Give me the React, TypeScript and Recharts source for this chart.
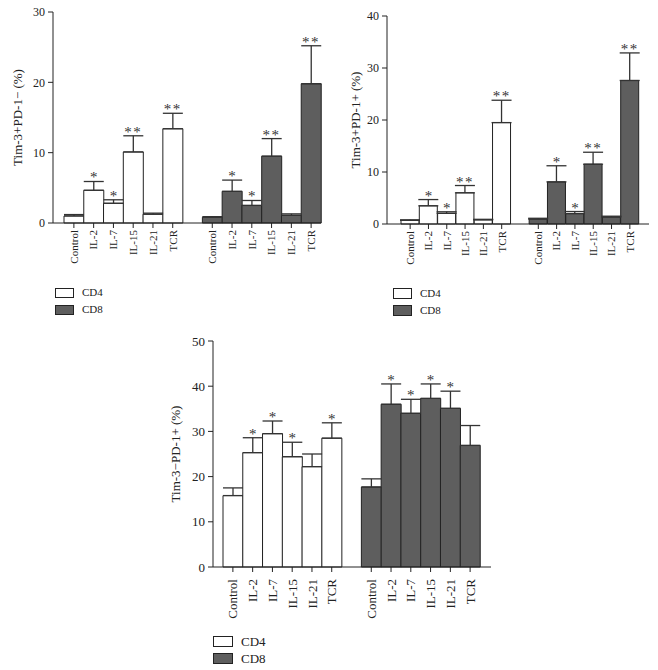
import { Bar, Cell, ComposedChart, ErrorBar, Line, XAxis, YAxis } from 'recharts';

const FONT = '"Liberation Serif", "Times New Roman", serif';
const INK = '#222';
const DARK = '#5e5e5e';

const categories = ['Control', 'IL-2', 'IL-7', 'IL-15', 'IL-21', 'TCR'];

// Tim-3+PD-1− (%)
const cd4MeanA = [1.0, 4.65, 2.8, 10.1, 1.25, 13.4];
const cd4ErrA = [0.2, 1.25, 0.5, 2.3, 0.15, 2.2];
const cd4SigA = ['', '*', '*', '**', '', '**'];
const cd8MeanA = [0.8, 4.5, 2.5, 9.5, 1.1, 19.8];
const cd8ErrA = [0.1, 1.6, 0.7, 2.5, 0.2, 5.4];
const cd8SigA = ['', '*', '*', '**', '', '**'];
const ticksA = [0, 10, 20, 30];

// Tim-3+PD-1+ (%)
const cd4MeanB = [0.7, 3.5, 2.05, 6.0, 0.8, 19.5];
const cd4ErrB = [0.1, 1.2, 0.3, 1.4, 0.1, 4.3];
const cd4SigB = ['', '*', '*', '**', '', '**'];
const cd8MeanB = [0.95, 8.1, 2.0, 11.5, 1.35, 27.6];
const cd8ErrB = [0.15, 3.1, 0.4, 2.3, 0.15, 5.3];
const cd8SigB = ['', '*', '*', '**', '', '**'];
const ticksB = [0, 10, 20, 30, 40];

// Tim-3−PD-1+ (%)
const cd4MeanC = [15.8, 25.3, 29.5, 24.4, 22.2, 28.5];
const cd4ErrC = [1.7, 3.3, 2.8, 3.2, 2.8, 3.4];
const cd4SigC = ['', '*', '*', '*', '', '*'];
const cd8MeanC = [17.7, 36.0, 34.0, 37.3, 35.1, 26.9];
const cd8ErrC = [1.8, 4.5, 3.1, 3.2, 3.8, 4.4];
const cd8SigC = ['', '*', '*', '*', '*', ''];
const ticksC = [0, 10, 20, 30, 40, 50];

interface Row {
  key: string;
  label: string;
  group: 'cd4' | 'cd8' | 'gap';
  value: number | null;
  err: [number, number];
  top: number | null;
  sig: string;
}

function buildRows(m4: number[], e4: number[], s4: string[], m8: number[], e8: number[], s8: string[]): Row[] {
  const side = (group: 'cd4' | 'cd8', m: number[], e: number[], s: string[]) =>
    categories.map((c, i) => ({
      key: `${group}-${c}`,
      label: c,
      group,
      value: m[i],
      err: [0, e[i]] as [number, number],
      top: s[i] ? m[i] + e[i] : null,
      sig: s[i],
    }));
  const gap: Row = { key: 'gap', label: '', group: 'gap', value: null, err: [0, 0], top: null, sig: '' };
  return [...side('cd4', m4, e4, s4), gap, ...side('cd8', m8, e8, s8)];
}

interface PanelProps {
  rows: Row[];
  ticks: number[];
  yLabel: string;
  labelX: number;
  width: number;
  height: number;
  margin: { top: number; right: number; bottom: number; left: number };
  pad: { left: number; right: number };
  xFont: number;
  yFont: number;
  labelGap: number;
}

function Panel({ rows, ticks, yLabel, labelX, width, height, margin, pad, xFont, yFont, labelGap }: PanelProps) {
  const XTick = (props: any) => {
    const { x, y, index } = props;
    const row = rows[index];
    if (!row || !row.label) return null;
    return (
      <g>
        <line x1={x} x2={x} y1={y} y2={y + 5} stroke={INK} strokeWidth={1} />
        <text
          x={x}
          y={y + labelGap}
          transform={`rotate(-90, ${x}, ${y + labelGap})`}
          textAnchor="end"
          dy="0.35em"
          fontSize={xFont}
          fontFamily={FONT}
          fill={INK}
        >
          {row.label}
        </text>
      </g>
    );
  };

  // significance marks sit just above each error-bar cap
  const Star = (props: any) => {
    const { cx, cy, index } = props;
    const row = rows[index];
    if (!row || !row.sig || cy == null) return <g key={`s${index}`} />;
    return (
      <text
        key={`s${index}`}
        x={cx}
        y={cy + 1}
        transform={`rotate(0.01, ${cx}, ${cy})`}
        textAnchor="middle"
        fontSize={15}
        fontFamily={FONT}
        fill="#333"
        letterSpacing={row.sig.length > 1 ? 1.5 : 0}
      >
        {row.sig}
      </text>
    );
  };

  const YTitle = (props: any) => {
    const vb = props.viewBox;
    const cy = vb.y + vb.height / 2;
    return (
      <text
        x={labelX}
        y={cy}
        transform={`rotate(-90, ${labelX}, ${cy})`}
        textAnchor="middle"
        dy="0.35em"
        fontSize={13}
        fontFamily={FONT}
        fill={INK}
      >
        {yLabel}
      </text>
    );
  };

  return (
    <ComposedChart width={width} height={height} data={rows} margin={margin} barCategoryGap={0}>
      <XAxis
        dataKey="key"
        type="category"
        padding={pad}
        tickSize={0}
        tickMargin={0}
        tick={XTick}
        interval={0}
        height={60}
        axisLine={{ stroke: INK, strokeWidth: 1 }}
      />
      <YAxis
        type="number"
        domain={[0, ticks[ticks.length - 1]]}
        ticks={ticks}
        width={40}
        tickSize={5}
        tickMargin={3}
        tick={{ fontSize: yFont, fontFamily: FONT, fill: INK }}
        tickLine={{ stroke: INK }}
        axisLine={{ stroke: INK, strokeWidth: 1 }}
        label={{ content: YTitle }}
      />
      <Bar dataKey="value" isAnimationActive={false} stroke={INK} strokeWidth={1}>
        {rows.map((r) => (
          <Cell key={r.key} fill={r.group === 'cd8' ? DARK : '#ffffff'} />
        ))}
        <ErrorBar dataKey="err" width={10} stroke="#333" strokeWidth={1.3} direction="y" />
      </Bar>
      <Line
        dataKey="top"
        stroke="none"
        isAnimationActive={false}
        dot={Star}
        activeDot={false}
        legendType="none"
        connectNulls={false}
      />
    </ComposedChart>
  );
}

function Key({ left, top, size, fontSize, gap }: { left: number; top: number; size: [number, number]; fontSize: number; gap: number }) {
  const items = [
    { name: 'CD4', fill: '#ffffff' },
    { name: 'CD8', fill: DARK },
  ];
  return (
    <div style={{ position: 'absolute', left, top, fontFamily: FONT, fontSize, color: INK }}>
      {items.map((it, i) => (
        <div key={it.name} style={{ position: 'absolute', left: 0, top: i * gap, display: 'flex', alignItems: 'center', whiteSpace: 'nowrap' }}>
          <span
            style={{
              display: 'inline-block',
              width: size[0],
              height: size[1],
              background: it.fill,
              border: `1px solid ${INK}`,
              marginRight: 8,
            }}
          />
          <span style={{ lineHeight: 1 }}>{it.name}</span>
        </div>
      ))}
    </div>
  );
}

export default function App() {
  const rowsA = buildRows(cd4MeanA, cd4ErrA, cd4SigA, cd8MeanA, cd8ErrA, cd8SigA);
  const rowsB = buildRows(cd4MeanB, cd4ErrB, cd4SigB, cd8MeanB, cd8ErrB, cd8SigB);
  const rowsC = buildRows(cd4MeanC, cd4ErrC, cd4SigC, cd8MeanC, cd8ErrC, cd8SigC);
  return (
    <div style={{ position: 'absolute', left: 0, top: 0, width: 658, height: 670, background: '#fff', overflow: 'hidden' }}>
      <div style={{ position: 'absolute', left: 0, top: 0 }}>
        <Panel
          rows={rowsA}
          ticks={ticksA}
          yLabel="Tim-3+PD-1− (%)"
          labelX={17}
          width={330}
          height={300}
          margin={{ top: 12, right: 9, bottom: 17, left: 13 }}
          pad={{ left: 11, right: 0 }}
          xFont={11}
          yFont={12}
          labelGap={7}
        />
      </div>
      <div style={{ position: 'absolute', left: 330, top: 0 }}>
        <Panel
          rows={rowsB}
          ticks={ticksB}
          yLabel="Tim-3+PD-1+ (%)"
          labelX={25}
          width={328}
          height={300}
          margin={{ top: 16, right: 9, bottom: 16, left: 17 }}
          pad={{ left: 14, right: 10 }}
          xFont={11}
          yFont={12}
          labelGap={7}
        />
      </div>
      <div style={{ position: 'absolute', left: 150, top: 320 }}>
        <Panel
          rows={rowsC}
          ticks={ticksC}
          yLabel="Tim-3−PD-1+ (%)"
          labelX={25}
          width={360}
          height={310}
          margin={{ top: 21, right: 19, bottom: 3, left: 23 }}
          pad={{ left: 10, right: 11 }}
          xFont={13}
          yFont={13}
          labelGap={12}
        />
      </div>
      <Key left={55} top={287} size={[17, 8]} fontSize={11} gap={17} />
      <Key left={393} top={288} size={[17, 9]} fontSize={11} gap={17} />
      <Key left={213} top={635} size={[18, 9]} fontSize={13} gap={17} />
    </div>
  );
}
